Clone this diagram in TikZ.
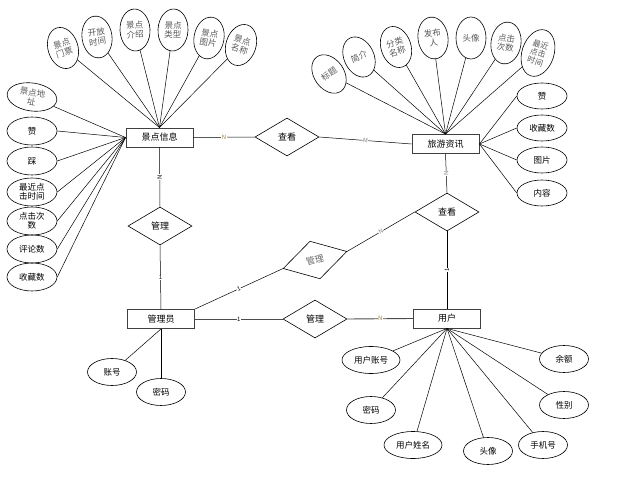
\documentclass[tikz,border=0pt]{standalone}
\usepackage{fontspec}
\setmainfont{Noto Sans CJK SC}
\usetikzlibrary{shapes.geometric}
\begin{document}
\begin{tikzpicture}[x=1pt,y=-1pt,
  ent/.style={draw=black!75, line width=0.9pt, minimum width=67pt, minimum height=19pt, inner sep=0pt, font=\fontsize{9}{10}\selectfont},
  rel/.style={diamond, draw, line width=0.6pt, minimum width=64pt, minimum height=38pt, inner sep=0pt, font=\fontsize{9}{10}\selectfont},
  attr/.style={ellipse, draw, line width=0.6pt, minimum width=49pt, minimum height=27pt, inner sep=0pt, align=center, font=\fontsize{8.5}{9.5}\selectfont},
  tattr/.style={ellipse, draw, line width=0.6pt, minimum width=30pt, minimum height=42pt, inner sep=0pt, align=center, text=black!65, font=\fontsize{8.5}{9.5}\selectfont},
  ln/.style={draw, line width=0.5pt},
  rln/.style={draw=black!70, line width=0.9pt},
  lab/.style={font=\fontsize{6}{6}\selectfont, inner sep=0.5pt, fill=white}
]
\useasboundingbox (0,0) rectangle (639,478);

% entities
\node[ent] (jd) at (159.5,137.5) {景点信息};
\node[ent] (ly) at (445.5,144) {旅游资讯};
\node[ent] (gly) at (161,319) {管理员};
\node[ent] (yh) at (447,318.5) {用户};

% relationships
\node[rel] (ck1) at (287,137) {查看};
\node[rel] (ck2) at (447,212) {查看};
\node[rel] (gl1) at (160,226) {管理};
\node[rel] (gl3) at (315,319) {管理};
\node[rel, rotate=15, minimum width=66pt, minimum height=39pt, text=black!60] (gl2) at (315,260) {管理};

% top attributes of 景点信息
\node[tattr, rotate=17] (a1) at (63,48) {景点\\门票};
\node[tattr, rotate=8] (a2) at (97,37) {开放\\时间};
\node[tattr, rotate=3] (a3) at (135,30) {景点\\介绍};
\node[tattr, rotate=-3] (a4) at (173,30) {景点\\类型};
\node[tattr, rotate=-10] (a5) at (209,38) {景点\\图片};
\node[tattr, rotate=-18] (a6) at (241,45) {景点\\名称};
\foreach \n in {a1,a2,a3,a4,a5,a6} \draw[ln] (\n) -- (jd.north);

% left attributes of 景点信息
\node[attr, rotate=-8, minimum width=50pt, minimum height=28pt, text=black!65] (b0) at (32,97) {景点地\\址};
\node[attr, minimum width=50pt, minimum height=28pt] (b1) at (32,131) {赞};
\node[attr, minimum width=50pt, minimum height=28pt] (b2) at (32,161) {踩};
\node[attr, minimum width=50pt, minimum height=28pt] (b3) at (32,192) {最近点\\击时间};
\node[attr, minimum width=50pt, minimum height=28pt] (b4) at (32,221) {点击次\\数};
\node[attr, minimum width=50pt, minimum height=28pt] (b5) at (32,249) {评论数};
\node[attr, minimum width=50pt, minimum height=28pt] (b6) at (32,277) {收藏数};
\draw[ln] (b0) -- (jd.west);
\foreach \n in {b1,b2,b3,b4,b5,b6} \draw[ln] (\n.east) -- (jd.west);

% top attributes of 旅游资讯
\node[tattr, rotate=35] (c1) at (329,74) {标题};
\node[tattr, rotate=25] (c2) at (359,57) {简介};
\node[tattr, rotate=18] (c3) at (396,47) {分类\\名称};
\node[tattr, rotate=8] (c4) at (433,38) {发布\\人};
\node[tattr] (c5) at (471,38) {头像};
\node[tattr, rotate=-8] (c6) at (506,43) {点击\\次数};
\node[tattr, rotate=-18, minimum width=32pt, minimum height=48pt, font=\fontsize{8}{8.8}\selectfont] (c7) at (538,53) {最近\\点击\\时间};
\foreach \n in {c1,c2,c3,c4,c5,c6,c7} \draw[ln] (\n) -- (ly.north);

% right attributes of 旅游资讯
\node[attr, minimum width=50pt, minimum height=26pt] (d1) at (542,96) {赞};
\node[attr, minimum width=50pt, minimum height=26pt] (d2) at (542,128) {收藏数};
\node[attr, minimum width=50pt, minimum height=26pt] (d3) at (542,160) {图片};
\node[attr, minimum width=50pt, minimum height=26pt] (d4) at (542,193) {内容};
\foreach \n in {d1,d2,d3,d4} \draw[ln] (\n.west) -- (ly.east);

% attributes of 管理员
\node[attr] (e1) at (112,372) {账号};
\node[attr] (e2) at (161,392) {密码};
\draw[ln] (e1) -- (gly.south);
\draw[ln] (e2) -- (gly.south);

% attributes of 用户
\node[attr, minimum width=58pt] (f1) at (371,360) {用户账号};
\node[attr] (f2) at (371,410) {密码};
\node[attr, minimum width=58pt] (f3) at (413,445) {用户姓名};
\node[attr] (f4) at (488,451) {头像};
\node[attr] (f5) at (543,445) {手机号};
\node[attr] (f6) at (564,405) {性别};
\node[attr] (f7) at (564,359) {余额};
\foreach \n in {f1,f2,f3,f4,f5,f6,f7} \draw[ln] (\n) -- (yh.south);

% relationship connectors
\draw[ln] (jd.east) -- node[lab, text=black!50!yellow!80!red] {N} (ck1.west);
\draw[ln] (ck1.east) -- node[lab, text=black!50, rotate=-5] {M} (ly.west);
\draw[ln] (jd.south) -- node[lab, rotate=90] {N} (gl1.north);
\draw[ln] (gl1.south) -- node[lab] {1} (gly.north);
\draw[ln] (ly.south) -- node[lab, text=black!50, rotate=90] {N} (ck2.north);
\draw[ln] (yh.north) -- node[lab, rotate=90] {1} (ck2.south);
\draw[ln] (gly.north east) -- node[lab, rotate=24] {1} (gl2.west);
\draw[ln] (gl2.east) -- node[lab, text=black!50, rotate=30] {N} (ck2.west);
\draw[rln] (gly.east) -- node[lab, text=black] {1} (gl3.west);
\draw[rln] (gl3.east) -- node[lab, text=black!50!yellow!80!red] {N} (yh.west);
\end{tikzpicture}
\end{document}
